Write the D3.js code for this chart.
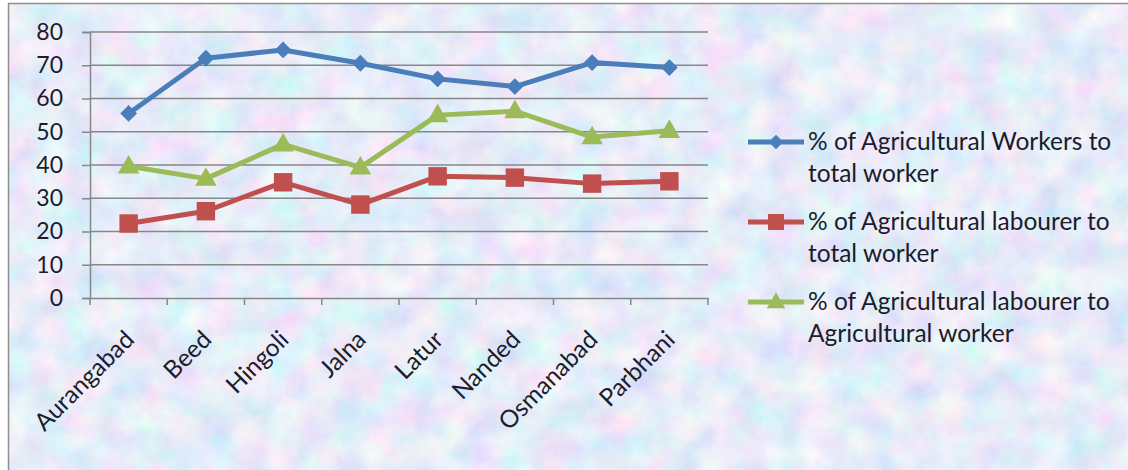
<!DOCTYPE html>
<html>
<head>
<meta charset="utf-8">
<script src="https://cdn.jsdelivr.net/npm/d3@7"></script>
<style>
  html, body { margin: 0; padding: 0; background: #ffffff; }
  svg { display: block; }
  text { font-family: Lato, "Open Sans", sans-serif; fill: #1c1c2c; }
</style>
</head>
<body>
<script>
// ---- data ----
const categories = ["Aurangabad", "Beed", "Hingoli", "Jalna", "Latur", "Nanded", "Osmanabad", "Parbhani"];
const workersToTotal   = [55.5, 72.1, 74.6, 70.6, 65.9, 63.6, 70.8, 69.3];
const labourerToTotal  = [22.4, 26.1, 34.8, 28.1, 36.6, 36.2, 34.4, 35.1];
const labourerToAgri   = [39.6, 35.9, 46.2, 39.3, 55.0, 56.2, 48.4, 50.3];
const seriesNames = [
  ["% of Agricultural Workers to", "total worker"],
  ["% of Agricultural labourer to", "total worker"],
  ["% of Agricultural labourer to", "Agricultural worker"]
];
const yTicks = [0, 10, 20, 30, 40, 50, 60, 70, 80];

const W = 1128, H = 470;
const svg = d3.select("body").append("svg").attr("width", W).attr("height", H);

// ---- background texture ----
const defs = svg.append("defs");
const f = defs.append("filter").attr("id", "tex").attr("x", 0).attr("y", 0).attr("width", "100%").attr("height", "100%");
f.append("feTurbulence").attr("type", "fractalNoise").attr("baseFrequency", "0.03").attr("numOctaves", 4).attr("seed", 11).attr("result", "n");
f.append("feColorMatrix").attr("in", "n").attr("type", "matrix")
  .attr("values", "0.55 0 0 0 0.52  0 0.38 0 0 0.65  0 0 0.14 0 0.87  0 0 0 0 1");

svg.append("rect").attr("x", 8).attr("y", 3).attr("width", W).attr("height", H)
  .attr("fill", "#c9d8f1");
svg.append("rect").attr("x", 8).attr("y", 3).attr("width", W).attr("height", H)
  .attr("filter", "url(#tex)");
svg.append("rect").attr("x", 8.5).attr("y", 3.5).attr("width", W).attr("height", H)
  .attr("fill", "none").attr("stroke", "#8e8e8e").attr("stroke-width", 1.5);

// ---- scales ----
const x = d3.scaleBand().domain(categories).range([90, 708]).padding(0);
const y = d3.scaleLinear().domain([0, 80]).range([298, 32]);
const cx = d => x(d) + x.bandwidth() / 2;

// gridlines
svg.append("g").selectAll("line").data(yTicks.filter(t => t > 0)).join("line")
  .attr("x1", 90).attr("x2", 708)
  .attr("y1", d => y(d)).attr("y2", d => y(d))
  .attr("stroke", "#878787").attr("stroke-width", 1.5);

// y axis
const yAxis = svg.append("g").attr("transform", "translate(90,0)")
  .call(d3.axisLeft(y).tickValues(yTicks).tickSize(8).tickPadding(19));
yAxis.select(".domain").attr("stroke", "#878787").attr("stroke-width", 1.5);
yAxis.selectAll(".tick line").attr("stroke", "#878787").attr("stroke-width", 1.5);
yAxis.selectAll(".tick text").attr("font-size", 23).attr("font-family", "Lato").attr("fill", "#1c1c2c");

// x axis
const xAxis = svg.append("g").attr("transform", "translate(0,298)")
  .call(d3.axisBottom(x).tickSize(0).tickFormat(""));
xAxis.select(".domain").attr("stroke", "#878787").attr("stroke-width", 1.5);
const bounds = categories.map(c => x(c)).concat([708]);
xAxis.append("g").selectAll("line").data(bounds).join("line")
  .attr("x1", d => d).attr("x2", d => d).attr("y1", 0).attr("y2", 7)
  .attr("stroke", "#878787").attr("stroke-width", 1.5);

svg.append("g").selectAll("text").data(categories).join("text")
  .attr("transform", d => `translate(${cx(d) + 1},${335}) rotate(-45)`)
  .attr("text-anchor", "end")
  .attr("dy", "0.35em")
  .attr("font-size", 24.5)
  .text(d => d);

// ---- series ----
const colors = ["#4a7ebb", "#c0504d", "#9bbb59"];
const allSeries = [workersToTotal, labourerToTotal, labourerToAgri];
const symbols = [d3.symbolDiamond2, d3.symbolSquare, d3.symbolTriangle];
const symSizes = [180, 340, 200];
const line = d3.line().x((d, i) => cx(categories[i])).y(d => y(d));

allSeries.forEach((vals, k) => {
  svg.append("path").datum(vals).attr("d", line)
    .attr("fill", "none").attr("stroke", colors[k]).attr("stroke-width", 5)
    .attr("stroke-linejoin", "round");
  const sym = d3.symbol().type(symbols[k]).size(symSizes[k]);
  svg.append("g").selectAll("path").data(vals).join("path")
    .attr("transform", (d, i) => `translate(${cx(categories[i])},${y(d) + (k === 2 ? 1 : 0)})`)
    .attr("d", sym)
    .attr("fill", colors[k]);
});

// ---- legend ----
const leg = svg.append("g");
seriesNames.forEach((lines, k) => {
  const my = 142 + k * 80;
  leg.append("line").attr("x1", 748).attr("x2", 804).attr("y1", my).attr("y2", my)
    .attr("stroke", colors[k]).attr("stroke-width", 5);
  leg.append("path").attr("transform", `translate(776,${my + (k === 2 ? 1 : 0)})`)
    .attr("d", d3.symbol().type(symbols[k]).size(symSizes[k] * 0.75)).attr("fill", colors[k]);
  lines.forEach((t, j) => {
    leg.append("text").attr("x", 808).attr("y", my + 8 + j * 32)
      .attr("font-size", 24.5).text(t);
  });
});
</script>
</body>
</html>
